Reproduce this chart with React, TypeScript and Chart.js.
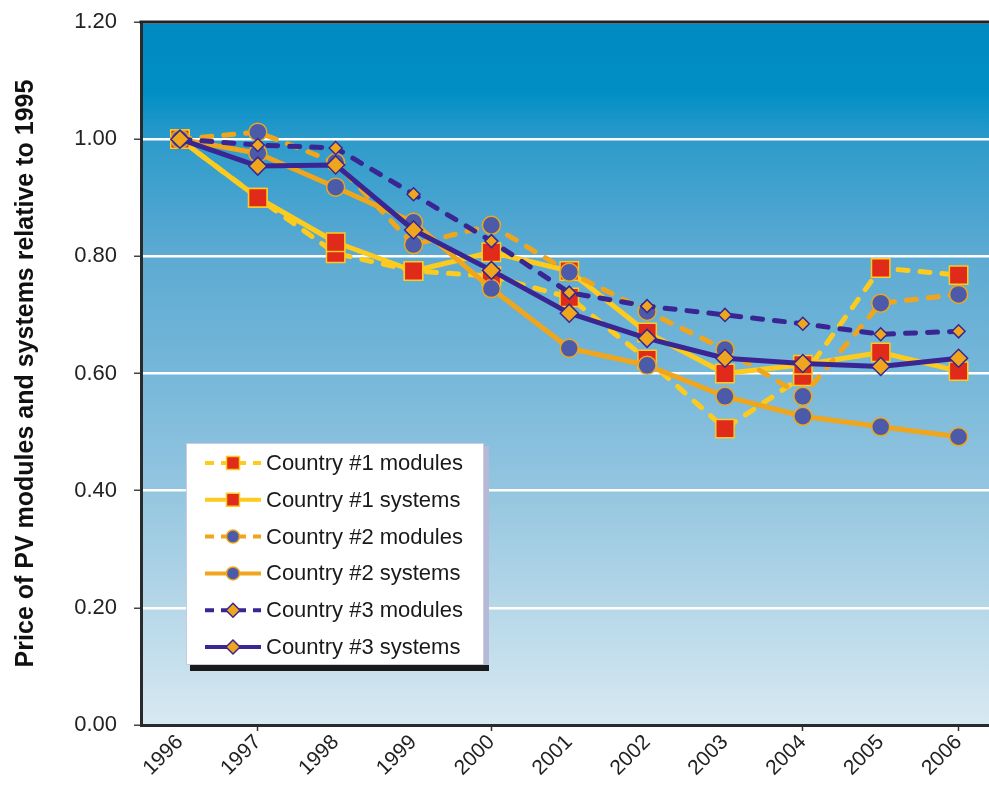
import React, { useEffect, useRef } from "react";
import { Chart, registerables } from "chart.js";

Chart.register(...registerables);

const years = ["1996", "1997", "1998", "1999", "2000", "2001", "2002", "2003", "2004", "2005", "2006"];
const yTicks = [0, 0.2, 0.4, 0.6, 0.8, 1.0, 1.2];
const xTickMarkAfter = ["1996", "1999", "2003", "2005"];

const c1Modules = [1.0, 0.9, 0.805, 0.775, 0.766, 0.73, 0.624, 0.506, 0.595, 0.78, 0.768];
const c1Systems = [1.0, 0.9, 0.824, 0.775, 0.807, 0.775, 0.67, 0.6, 0.615, 0.636, 0.604];
const c2Modules = [1.0, 1.012, 0.96, 0.82, 0.853, 0.773, 0.706, 0.641, 0.561, 0.72, 0.735];
const c2Systems = [1.0, 0.976, 0.918, 0.858, 0.745, 0.643, 0.614, 0.561, 0.527, 0.509, 0.492];
const c3Modules = [1.0, 0.99, 0.985, 0.906, 0.826, 0.738, 0.715, 0.7, 0.685, 0.667, 0.672];
const c3Systems = [1.0, 0.954, 0.956, 0.845, 0.776, 0.703, 0.66, 0.626, 0.617, 0.612, 0.626];

const seriesNames = [
  "Country #1 modules",
  "Country #1 systems",
  "Country #2 modules",
  "Country #2 systems",
  "Country #3 modules",
  "Country #3 systems",
];

const YELLOW = "#FCCB1E";
const ORANGE = "#F0A61C";
const PURPLE = "#3A2692";
const RED = "#E02B1B";
const DOT = "#4B5BAA";
const DASH = [10, 12];

const bgPlugin = {
  id: "bgPlugin",
  beforeDraw(chart: any) {
    const { ctx, chartArea: a } = chart;
    const g = ctx.createLinearGradient(0, a.top, 0, a.bottom);
    g.addColorStop(0, "#008AC2");
    g.addColorStop(0.1, "#008FC5");
    g.addColorStop(0.17, "#2E9BCB");
    g.addColorStop(0.33, "#5CAAD2");
    g.addColorStop(0.5, "#76B7D9");
    g.addColorStop(0.67, "#95C6E0");
    g.addColorStop(0.83, "#B5D7E8");
    g.addColorStop(1, "#D8E9F2");
    ctx.save();
    ctx.fillStyle = g;
    ctx.fillRect(a.left, a.top, a.right - a.left, a.bottom - a.top);
    ctx.restore();
  },
  afterDraw(chart: any) {
    const { ctx, chartArea: a } = chart;
    ctx.save();
    ctx.strokeStyle = "#222";
    ctx.lineWidth = 3;
    ctx.beginPath();
    ctx.moveTo(a.left - 1.5, a.top);
    ctx.lineTo(a.right, a.top);
    ctx.stroke();
    ctx.restore();
  },
};

const legendPlugin = {
  id: "boxLegend",
  afterDraw(chart: any) {
    const { ctx } = chart;
    const bx = 186, by = 443, bw = 298, bh = 222;
    ctx.save();
    ctx.fillStyle = "#B5B9D5";
    ctx.fillRect(bx + bw, by + 3, 5, bh);
    ctx.fillStyle = "#1a1a1a";
    ctx.fillRect(bx + 4, by + bh, bw + 1, 6);
    ctx.fillStyle = "#ffffff";
    ctx.fillRect(bx, by, bw, bh);
    ctx.strokeStyle = "#C9CCE0";
    ctx.lineWidth = 1;
    ctx.strokeRect(bx + 0.5, by + 0.5, bw - 1, bh - 1);
    chart.data.datasets.forEach((ds: any, i: number) => {
      const cy = 463 + i * 36.8;
      const x0 = 205, x1 = 261, cx = 233;
      ctx.save();
      ctx.strokeStyle = ds.borderColor;
      ctx.lineWidth = 4;
      ctx.lineCap = "butt";
      if (ds.borderDash && ds.borderDash.length) ctx.setLineDash([9, 7]);
      ctx.beginPath();
      ctx.moveTo(x0, cy);
      ctx.lineTo(x1, cy);
      ctx.stroke();
      ctx.restore();
      ctx.save();
      ctx.fillStyle = ds.pointBackgroundColor;
      ctx.strokeStyle = ds.pointBorderColor;
      ctx.lineWidth = 1.5;
      ctx.beginPath();
      if (ds.pointStyle === "rect") {
        ctx.rect(cx - 6.5, cy - 6.5, 13, 13);
      } else if (ds.pointStyle === "circle") {
        ctx.arc(cx, cy, 6.5, 0, Math.PI * 2);
      } else {
        ctx.moveTo(cx - 7, cy);
        ctx.lineTo(cx, cy - 7);
        ctx.lineTo(cx + 7, cy);
        ctx.lineTo(cx, cy + 7);
        ctx.closePath();
      }
      ctx.fill();
      ctx.stroke();
      ctx.restore();
      ctx.save();
      ctx.fillStyle = "#1a1a1a";
      ctx.font = "22px 'Liberation Sans', Arial, sans-serif";
      ctx.textBaseline = "middle";
      ctx.textAlign = "left";
      ctx.fillText(ds.label, 266, cy + 1);
      ctx.restore();
    });
    ctx.restore();
  },
};

export default function App() {
  const ref = useRef<HTMLCanvasElement | null>(null);

  useEffect(() => {
    if (!ref.current) return;
    const mk = (
      i: number,
      data: number[],
      color: string,
      dashed: boolean,
      style: string,
      fill: string,
      border: string,
      radius: number,
      order: number
    ) => ({
      label: seriesNames[i],
      data,
      borderColor: color,
      backgroundColor: color,
      borderWidth: 5,
      borderDash: dashed ? DASH : [],
      borderCapStyle: dashed ? "round" : "butt",
      borderJoinStyle: "round",
      pointStyle: style,
      pointRadius: radius,
      pointHoverRadius: radius,
      pointBackgroundColor: fill,
      pointBorderColor: border,
      pointBorderWidth: 1.5,
      tension: 0,
      fill: false,
      order,
    });

    const chart = new Chart(ref.current, {
      type: "line",
      data: {
        labels: years,
        datasets: [
          mk(0, c1Modules, YELLOW, true, "rect", RED, YELLOW, 13, 6),
          mk(1, c1Systems, YELLOW, false, "rect", RED, YELLOW, 13, 5),
          mk(2, c2Modules, ORANGE, true, "circle", DOT, ORANGE, 9, 4),
          mk(3, c2Systems, ORANGE, false, "circle", DOT, ORANGE, 9, 3),
          mk(4, c3Modules, PURPLE, true, "rectRot", ORANGE, PURPLE, 6.5, 2),
          mk(5, c3Systems, PURPLE, false, "rectRot", ORANGE, PURPLE, 9, 1),
        ] as any,
      },
      options: {
        animation: false,
        responsive: false,
        maintainAspectRatio: false,
        devicePixelRatio: 1,
        layout: { padding: { top: 22, right: 0, bottom: 0, left: 0 } },
        plugins: {
          legend: { display: false },
          tooltip: { enabled: false },
        },
        scales: {
          x: {
            type: "category",
            offset: true,
            afterFit: (s: any) => {
              s.height = 65;
            },
            grid: {
              display: true,
              drawOnChartArea: false,
              drawTicks: true,
              tickLength: 6,
              tickWidth: 1.5,
              tickColor: (c: any) => {
                const marks = xTickMarkAfter.map((y) => years.indexOf(y) + 1);
                return marks.includes(c.index) ? "#333" : "rgba(0,0,0,0)";
              },
            },
            border: { display: true, color: "#2a2a2a", width: 3 },
            ticks: {
              autoSkip: false,
              minRotation: 45,
              maxRotation: 45,
              padding: -1,
              color: "#222",
              font: { family: "'Liberation Sans', Arial, sans-serif", size: 21 },
            },
          },
          y: {
            type: "linear",
            min: 0,
            max: 1.2,
            afterFit: (s: any) => {
              s.width = 141;
              s.paddingTop = 0;
              s.paddingBottom = 0;
            },
            afterBuildTicks: (s: any) => {
              s.ticks = yTicks.map((v) => ({ value: v }));
            },
            grid: {
              color: "#ffffff",
              lineWidth: 2.5,
              drawTicks: true,
              tickLength: 7,
              tickColor: "#444",
              tickWidth: 1.5,
            },
            border: { display: true, color: "#2a2a2a", width: 3 },
            ticks: {
              padding: 17,
              color: "#222",
              font: { family: "'Liberation Sans', Arial, sans-serif", size: 22 },
              callback: (v: any) => Number(v).toFixed(2),
            },
            title: {
              display: true,
              text: "Price of PV modules and systems relative to 1995",
              color: "#111",
              padding: { top: 11, bottom: 0 },
              font: { family: "'Liberation Sans', Arial, sans-serif", size: 25, weight: "bold" },
            },
          },
        },
      },
      plugins: [bgPlugin, legendPlugin],
    } as any);
    return () => chart.destroy();
  }, []);

  return (
    <div style={{ position: "absolute", left: 0, top: 0, width: 989, height: 790, overflow: "hidden", background: "#fff" }}>
      <canvas ref={ref} width={1012} height={790} style={{ width: 1012, height: 790, display: "block" }} />
    </div>
  );
}
